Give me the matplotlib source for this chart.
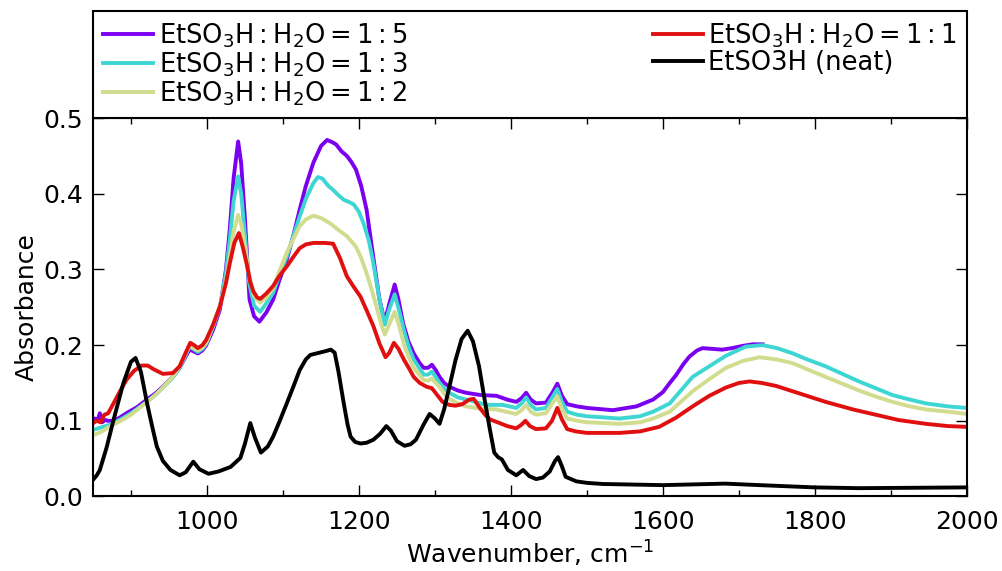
import matplotlib
matplotlib.use("Agg")
import matplotlib.pyplot as plt
from matplotlib.ticker import MultipleLocator, FormatStrFormatter

# ---- data ----
wn_neat = [850, 855, 859, 868, 877, 890, 900, 906, 913, 921, 928, 934, 942, 952, 964, 972, 982, 990,
           1002, 1015, 1031, 1044, 1050, 1057, 1063, 1071, 1080, 1087, 1095, 1105, 1114, 1122, 1130,
           1136, 1148, 1156, 1163, 1168, 1173, 1180, 1185, 1189, 1195, 1202, 1210, 1219, 1228, 1236,
           1242, 1250, 1260, 1268, 1275, 1285, 1293, 1300, 1306, 1312, 1319, 1327, 1335, 1343, 1350,
           1358, 1365, 1372, 1378, 1383, 1388, 1396, 1407, 1416, 1424, 1433, 1442, 1451, 1458, 1462,
           1467, 1472, 1486, 1500, 1521, 1600, 1682, 1727, 1800, 1858, 2000]
ab_neat = [0.022, 0.028, 0.035, 0.065, 0.101, 0.150, 0.178, 0.183, 0.165, 0.124, 0.092, 0.066, 0.047,
           0.035, 0.028, 0.032, 0.046, 0.036, 0.030, 0.033, 0.039, 0.051, 0.070, 0.097, 0.078, 0.058,
           0.066, 0.079, 0.098, 0.123, 0.146, 0.167, 0.181, 0.187, 0.190, 0.192, 0.194, 0.190, 0.165,
           0.123, 0.095, 0.079, 0.072, 0.070, 0.071, 0.075, 0.083, 0.093, 0.087, 0.073, 0.067, 0.069,
           0.075, 0.095, 0.109, 0.103, 0.096, 0.115, 0.145, 0.180, 0.208, 0.219, 0.205, 0.172, 0.130,
           0.090, 0.058, 0.052, 0.049, 0.035, 0.028, 0.035, 0.027, 0.023, 0.025, 0.033, 0.047, 0.052,
           0.040, 0.026, 0.020, 0.018, 0.0165, 0.015, 0.017, 0.015, 0.012, 0.011, 0.012]

wn_11 = [850, 855, 860, 865, 870, 877, 885, 894, 904, 914, 922, 930, 942, 955, 964, 972, 978, 983, 988,
         994, 999, 1008, 1017, 1025, 1030, 1036, 1042, 1047, 1053, 1057, 1061, 1066, 1070, 1078, 1087,
         1095, 1105, 1114, 1122, 1130, 1140, 1155, 1166, 1175, 1184, 1193, 1202, 1210, 1219, 1227, 1235,
         1240, 1246, 1252, 1259, 1266, 1272, 1280, 1289, 1296, 1303, 1310, 1319, 1327, 1336, 1345, 1351,
         1359, 1366, 1372, 1385, 1395, 1407, 1414, 1419, 1425, 1433, 1446, 1454, 1461, 1467, 1474, 1485,
         1500, 1543, 1570, 1595, 1617, 1639, 1661, 1683, 1700, 1714, 1730, 1749, 1780, 1814, 1850, 1880,
         1910, 1946, 1975, 2000]
ab_11 = [0.097, 0.100, 0.098, 0.108, 0.110, 0.123, 0.138, 0.154, 0.166, 0.173, 0.173, 0.168, 0.162,
         0.163, 0.172, 0.190, 0.203, 0.200, 0.196, 0.200, 0.207, 0.227, 0.251, 0.282, 0.308, 0.335,
         0.348, 0.330, 0.304, 0.283, 0.271, 0.263, 0.261, 0.268, 0.278, 0.291, 0.304, 0.317, 0.328,
         0.333, 0.335, 0.335, 0.334, 0.315, 0.291, 0.277, 0.264, 0.246, 0.225, 0.202, 0.184, 0.190,
         0.203, 0.195, 0.181, 0.169, 0.158, 0.150, 0.145, 0.143, 0.134, 0.125, 0.121, 0.120, 0.122,
         0.128, 0.129, 0.117, 0.108, 0.102, 0.097, 0.093, 0.090, 0.095, 0.100, 0.093, 0.089, 0.090,
         0.100, 0.117, 0.102, 0.089, 0.086, 0.084, 0.084, 0.086, 0.092, 0.104, 0.119, 0.133, 0.144,
         0.150, 0.152, 0.150, 0.146, 0.136, 0.125, 0.115, 0.108, 0.101, 0.096, 0.093, 0.092]

wn_15 = [850, 853, 856, 859, 862, 866, 870, 877, 885, 894, 908, 921, 932, 942, 954, 964, 972, 977, 982,
         988, 994, 999, 1008, 1017, 1025, 1030, 1035, 1041, 1045, 1050, 1056, 1062, 1069, 1078, 1087,
         1095, 1105, 1114, 1122, 1130, 1140, 1150, 1158, 1165, 1170, 1177, 1184, 1190, 1196, 1203, 1210,
         1218, 1227, 1234, 1240, 1247, 1252, 1258, 1265, 1272, 1280, 1285, 1291, 1296, 1301, 1306, 1312,
         1319, 1330, 1341, 1360, 1381, 1395, 1407, 1414, 1420, 1426, 1433, 1446, 1455, 1461, 1467, 1474,
         1487, 1500, 1534, 1565, 1587, 1600, 1609, 1617, 1627, 1635, 1645, 1652, 1665, 1678, 1691, 1705,
         1718, 1731]
ab_15 = [0.097, 0.103, 0.100, 0.110, 0.098, 0.101, 0.100, 0.100, 0.104, 0.110, 0.118, 0.128, 0.136,
         0.145, 0.157, 0.170, 0.185, 0.194, 0.192, 0.189, 0.193, 0.200, 0.220, 0.247, 0.300, 0.353,
         0.420, 0.469, 0.440, 0.366, 0.260, 0.238, 0.231, 0.243, 0.260, 0.285, 0.313, 0.346, 0.379,
         0.410, 0.441, 0.463, 0.471, 0.468, 0.465, 0.456, 0.450, 0.442, 0.432, 0.410, 0.379, 0.322,
         0.260, 0.231, 0.255, 0.280, 0.260, 0.229, 0.205, 0.189, 0.176, 0.170, 0.170, 0.174, 0.167,
         0.158, 0.150, 0.145, 0.140, 0.137, 0.134, 0.133, 0.128, 0.125, 0.130, 0.137, 0.128, 0.123,
         0.124, 0.138, 0.149, 0.133, 0.122, 0.119, 0.117, 0.114, 0.119, 0.128, 0.138, 0.150, 0.160,
         0.175, 0.185, 0.193, 0.196, 0.195, 0.194, 0.196, 0.199, 0.201, 0.201]

wn_13 = [850, 860, 870, 877, 890, 900, 910, 921, 932, 942, 954, 964, 972, 977, 982, 988, 994, 999, 1008,
         1017, 1025, 1030, 1035, 1041, 1045, 1050, 1055, 1062, 1070, 1078, 1087, 1095, 1105, 1114, 1122,
         1130, 1140, 1146, 1152, 1160, 1166, 1173, 1180, 1187, 1193, 1200, 1206, 1213, 1219, 1227, 1234,
         1240, 1247, 1253, 1260, 1266, 1272, 1285, 1291, 1296, 1301, 1306, 1312, 1319, 1330, 1341, 1350,
         1367, 1389, 1407, 1414, 1420, 1426, 1433, 1446, 1455, 1461, 1467, 1474, 1487, 1500, 1543, 1570,
         1587, 1609, 1639, 1661, 1683, 1709, 1731, 1750, 1771, 1790, 1814, 1836, 1858, 1880, 1902, 1925,
         1946, 1975, 2000]
ab_13 = [0.088, 0.091, 0.094, 0.097, 0.104, 0.110, 0.117, 0.125, 0.134, 0.144, 0.156, 0.170, 0.187,
         0.198, 0.195, 0.191, 0.195, 0.202, 0.224, 0.251, 0.295, 0.339, 0.390, 0.423, 0.400, 0.345,
         0.285, 0.252, 0.244, 0.255, 0.269, 0.292, 0.317, 0.345, 0.370, 0.393, 0.414, 0.422, 0.420,
         0.410, 0.405, 0.398, 0.392, 0.389, 0.386, 0.376, 0.361, 0.338, 0.308, 0.260, 0.227, 0.248,
         0.267, 0.245, 0.216, 0.196, 0.181, 0.161, 0.161, 0.165, 0.158, 0.150, 0.143, 0.137, 0.131,
         0.128, 0.126, 0.121, 0.121, 0.117, 0.123, 0.131, 0.121, 0.115, 0.117, 0.132, 0.142, 0.125,
         0.112, 0.108, 0.106, 0.103, 0.106, 0.112, 0.123, 0.158, 0.172, 0.186, 0.198, 0.200, 0.196,
         0.189, 0.181, 0.172, 0.162, 0.152, 0.143, 0.134, 0.128, 0.123, 0.119, 0.117]

wn_12 = [850, 860, 870, 877, 890, 900, 910, 921, 932, 942, 954, 964, 972, 977, 982, 988, 994, 999, 1008,
         1017, 1025, 1030, 1035, 1041, 1045, 1050, 1055, 1062, 1070, 1078, 1087, 1095, 1105, 1114, 1122,
         1130, 1140, 1150, 1162, 1173, 1184, 1196, 1203, 1210, 1217, 1223, 1229, 1234, 1240, 1247, 1253,
         1260, 1266, 1272, 1285, 1291, 1296, 1301, 1306, 1312, 1319, 1330, 1341, 1360, 1381, 1402, 1407,
         1414, 1420, 1426, 1433, 1446, 1455, 1461, 1467, 1474, 1487, 1500, 1543, 1570, 1587, 1609, 1639,
         1661, 1683, 1705, 1727, 1750, 1771, 1790, 1814, 1836, 1858, 1880, 1902, 1925, 1946, 1975, 2000]
ab_12 = [0.081, 0.085, 0.091, 0.095, 0.102, 0.108, 0.116, 0.125, 0.134, 0.144, 0.157, 0.172, 0.189,
         0.199, 0.196, 0.193, 0.197, 0.203, 0.226, 0.252, 0.285, 0.317, 0.350, 0.372, 0.360, 0.330,
         0.295, 0.265, 0.256, 0.263, 0.275, 0.297, 0.322, 0.341, 0.357, 0.366, 0.371, 0.368, 0.361,
         0.352, 0.344, 0.330, 0.315, 0.295, 0.272, 0.251, 0.228, 0.214, 0.228, 0.244, 0.225, 0.198,
         0.183, 0.170, 0.154, 0.153, 0.156, 0.150, 0.145, 0.136, 0.129, 0.123, 0.119, 0.116, 0.115,
         0.110, 0.109, 0.114, 0.121, 0.112, 0.108, 0.110, 0.124, 0.132, 0.116, 0.103, 0.100, 0.098,
         0.096, 0.098, 0.103, 0.112, 0.139, 0.155, 0.170, 0.179, 0.184, 0.181, 0.176, 0.168, 0.158,
         0.149, 0.140, 0.132, 0.125, 0.119, 0.115, 0.112, 0.109]

labels = [r"$\mathregular{EtSO_3H:H_2O=1:5}$",
          r"$\mathregular{EtSO_3H:H_2O=1:3}$",
          r"$\mathregular{EtSO_3H:H_2O=1:2}$",
          r"$\mathregular{EtSO_3H:H_2O=1:1}$",
          "EtSO3H (neat)"]
colors = ["#7b00f0", "#3ed6d2", "#d2dc8e", "#e01010", "#000000"]

plt.rcParams["font.family"] = ["DejaVu Sans"]
fig = plt.figure(figsize=(10.02, 5.71), dpi=100)
ax = fig.add_axes([0.0928, 0.1305, 0.8722, 0.6628])

series = [(wn_15, ab_15), (wn_13, ab_13), (wn_12, ab_12), (wn_11, ab_11), (wn_neat, ab_neat)]
for (x, y), c, lab in zip(series, colors, labels):
    ax.plot(x, y, color=c, lw=2.8, label=lab, solid_joinstyle="round")

ax.set_xlim(850, 2000)
ax.set_ylim(0, 0.5)
ax.xaxis.set_major_locator(MultipleLocator(200))
ax.xaxis.set_minor_locator(MultipleLocator(100))
ax.yaxis.set_major_locator(MultipleLocator(0.1))
ax.yaxis.set_major_formatter(FormatStrFormatter("%.1f"))
ax.tick_params(which="both", direction="in", top=True, right=True, labelsize=18, width=1)
ax.tick_params(which="major", length=8)
ax.tick_params(axis="x", which="major", pad=10)
ax.tick_params(axis="y", which="major", pad=7)
ax.tick_params(which="minor", length=4)
for s in ax.spines.values():
    s.set_linewidth(1.5)
ax.set_xlabel(r"Wavenumber, cm$^{\mathregular{-1}}$", fontsize=18, labelpad=3)
ax.set_ylabel("Absorbance", fontsize=18, labelpad=3)

leg = ax.legend(bbox_to_anchor=(0, 1.0, 1, 0.29), loc="lower left", mode="expand", ncol=2,
                borderaxespad=0, fontsize=18.5, fancybox=False, framealpha=1, edgecolor="black",
                labelspacing=0.02, handlelength=1.95, handletextpad=0.2, borderpad=0.4)
leg.get_frame().set_linewidth(1.5)

fig.savefig("out.png", dpi=100)
